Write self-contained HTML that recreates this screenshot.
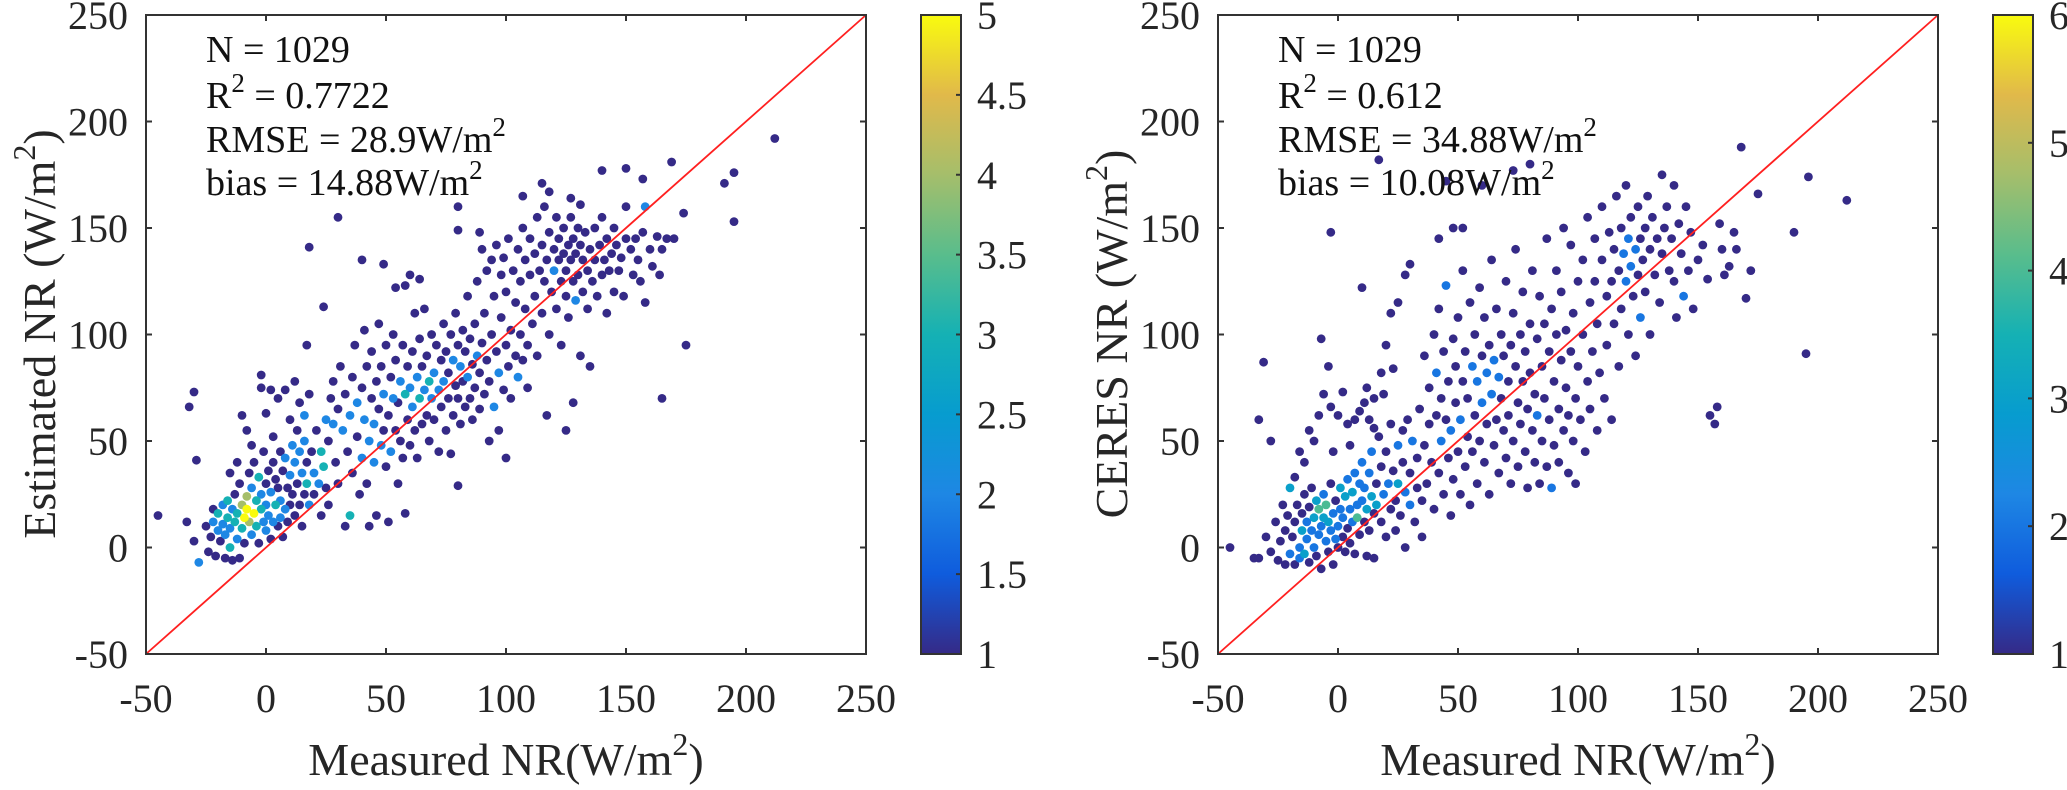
<!DOCTYPE html>
<html><head><meta charset="utf-8">
<style>
html,body{margin:0;padding:0;background:#fff;}
svg{display:block;font-family:"Liberation Serif","DejaVu Serif",serif;}
</style></head>
<body>
<svg id="fig" width="2067" height="790" viewBox="0 0 2067 790" xmlns="http://www.w3.org/2000/svg"></svg>
<script>
// ---- data ----
const xTicks = [-50,0,50,100,150,200,250];
const yTicks = [-50,0,50,100,150,200,250];
const leftCbTicks = [1,1.5,2,2.5,3,3.5,4,4.5,5];
const leftCbLabels = ["1","1.5","2","2.5","3","3.5","4","4.5","5"];
const rightCbTicks = [1,2,3,4,5,6];
const rightCbLabels = ["1","2","3","4","5","6"];
const leftStats = ["N = 1029","0.7722","28.9","14.88"];
const rightStats = ["N = 1029","0.612","34.88","10.08"];
// points: [measured, estimated, density]
const leftPoints = [
[-25,10,1],[-24,-2,1],[-23,5,1],[-22,18,1],[-22,12,2],[-21,-4,1],[-20,8,2],[-20,16,3],[-19,3,1],[-18,20,2],[-18,11,2],[-17,-5,1],[-17,6,2],[-16,14,3],[-16,22,3],[-15,0,3],[-15,9,2],[-14,18,2],[-14,-6,1],[-13,12,3],[-13,25,1],[-12,4,2],[-12,16,3],[-11,30,1],[-11,-5,1],[-10,20,4],[-10,9,3],[-9,14,5],[-9,2,1],[-8,24,4],[-8,18,5],[-7,12,4],[-7,35,1],[-6,6,2],[-6,28,2],[-5,16,5],[-5,40,1],[-4,22,3],[-4,10,3],[-3,2,1],[-3,33,3],[-2,18,3],[-2,25,2],[-1,12,2],[-1,45,1],[0,8,2],[0,20,2],[0,30,1],[1,15,2],[1,36,1],[2,26,2],[2,4,1],[3,12,2],[3,40,1],[4,20,3],[4,32,1],[5,10,1],[5,28,1],[6,22,2],[6,14,2],[7,36,1],[7,5,1],[8,18,2],[8,42,2],[9,28,1],[9,12,1],[10,34,2],[10,20,1],[11,48,2],[11,25,1],[12,15,1],[12,40,2],[13,30,1],[13,55,1],[14,20,1],[14,45,2],[15,35,2],[15,10,1],[16,50,2],[16,25,1],[17,40,1],[17,30,3],[18,20,2],[19,45,1],[20,35,2],[20,25,1],[21,55,1],[22,30,2],[23,15,1],[23,45,3],[24,38,3],[25,60,2],[25,28,1],[26,20,1],
[-2,75,1],[0,63,1],[2,74,1],[5,70,1],[8,74,1],[10,60,1],[12,78,1],[14,68,1],[16,62,2],[18,72,1],[-8,55,1],[-10,62,1],[-12,40,1],[-15,35,1],[-6,48,1],[3,52,1],[6,45,1],
[26,50,1],[27,70,1],[28,58,2],[28,78,1],[29,40,1],[30,65,1],[30,30,1],[31,85,1],[32,55,2],[33,72,1],[33,10,1],[34,45,1],[35,15,3],[35,62,2],[36,80,1],[36,35,1],[37,95,1],[38,68,2],[38,52,1],[39,25,1],[40,75,1],[40,42,2],[41,102,1],[41,60,2],[42,85,1],[42,30,1],[43,10,1],[43,50,2],[44,70,1],[44,92,1],[45,58,2],[45,40,2],[46,78,1],[46,15,1],[47,105,1],[47,65,1],[48,48,2],[48,85,1],[49,55,1],[49,72,2],[50,38,1],[50,95,1],[51,62,1],[51,12,1],[52,80,1],[52,45,2],[53,70,2],[53,100,1],[54,55,1],[54,88,1],[55,68,1],[55,30,1],[56,78,2],[56,50,1],[57,95,1],[57,42,1],[58,72,3],[58,16,1],[59,85,1],[59,60,1],[60,75,2],[60,48,1],[61,92,1],[61,66,2],[62,110,1],[62,55,1],[63,80,2],[63,42,1],[64,70,3],[64,98,1],[65,85,1],[65,58,1],[66,74,2],[66,112,1],[67,62,1],[67,90,1],[68,78,3],[68,50,1],[69,100,1],[69,70,2],[70,82,2],[70,60,1],
[71,95,1],[72,74,2],[72,45,1],[73,88,1],[73,66,1],[74,105,1],[74,78,2],[75,92,1],[75,55,1],[76,82,1],[76,70,1],[77,100,1],[77,44,1],[78,88,2],[78,62,1],[79,76,1],[79,110,1],[80,95,1],[80,70,1],[81,85,2],[81,58,1],[82,102,1],[82,78,1],[83,66,1],[83,92,1],[84,80,2],[84,118,1],[85,70,1],[85,98,1],[86,86,1],[86,60,1],[87,105,1],[87,75,1],[88,90,2],[88,125,1],[89,82,1],[89,65,1],[90,96,1],[90,140,1],[91,72,1],[91,110,1],[92,88,1],[92,130,1],[93,78,1],[93,50,1],[94,100,1],[94,135,1],[95,66,2],[95,118,1],[96,92,1],[96,142,1],[97,82,2],[97,55,1],[98,108,1],[98,128,1],[99,74,1],[99,136,1],[100,95,1],[100,120,1],[101,85,1],[101,145,1],[102,102,1],[102,70,1],[103,130,1],[104,90,1],[104,115,1],[105,140,1],[105,80,2],[106,100,1],[106,125,1],[107,150,1],[107,88,1],[108,112,1],[108,135,1],[109,75,1],[109,95,1],[110,128,1],[110,145,1],
[111,105,1],[112,138,1],[112,118,1],[113,155,1],[113,90,1],[114,130,1],[115,142,1],[115,110,1],[116,125,1],[116,160,1],[117,135,1],[118,100,1],[118,148,1],[119,120,1],[120,140,1],[120,130,2],[121,155,1],[121,112,1],[122,135,1],[122,145,1],[123,125,1],[123,95,1],[124,150,1],[124,138,1],[125,118,1],[125,130,1],[126,142,1],[126,108,1],[127,135,1],[127,155,1],[128,125,1],[128,145,1],[129,116,2],[129,138,1],[130,150,1],[130,128,1],[131,90,1],[131,142,1],[132,135,1],[132,120,1],[133,148,1],[134,130,1],[134,112,1],[135,140,1],[135,85,1],[136,125,1],[137,150,1],[137,135,1],[138,118,1],[139,142,1],[140,128,1],[140,155,1],[141,135,1],[142,110,1],[142,145,1],[143,130,1],[144,138,1],[145,150,1],[145,120,1],[146,142,1],[147,130,1],[148,136,1],[149,118,1],[150,145,1],[150,160,1],[152,140,1],[153,128,1],[154,145,1],[155,135,1],[156,125,1],[157,148,1],[158,115,1],[158,160,2],[160,140,1],[161,132,1],[163,146,1],[164,128,1],[165,140,1],[167,145,1],[170,145,1],
[-45,15,1],[-33,12,1],[-32,66,1],[-30,73,1],[-30,3,1],[-29,41,1],[-28,-7,2],[30,155,1],[18,141,1],[40,135,1],[24,113,1],[17,95,1],[-2,81,1],[49,133,1],[54,122,1],[60,128,1],[64,126,1],[58,123,1],[80,160,1],[80,149,1],[89,148,1],[175,95,1],[165,70,1],[125,55,1],[128,68,1],[80,29,1],[100,42,1],[117,62,1],[169,181,1],[174,157,1],[191,171,1],[195,176,1],[195,153,1],[212,192,1],[157,173,1],[150,178,1],[140,177,1],[127,164,1],[115,171,1],[107,165,1],[131,161,1],[118,167,1]
];
const rightPoints = [
[-35,-5,1],[-33,-5,1],[-30,5,1],[-28,-2,1],[-26,12,1],[-25,-6,1],[-24,3,1],[-23,20,1],[-22,-8,1],[-22,8,1],[-21,15,1],[-20,-3,2],[-20,28,3],[-19,5,1],[-18,12,1],[-18,-8,1],[-17,20,1],[-16,0,2],[-16,-5,2],[-15,8,3],[-15,16,1],[-14,-3,3],[-14,25,1],[-13,4,2],[-13,12,2],[-12,19,1],[-12,-7,1],[-11,8,2],[-11,28,1],[-10,0,2],[-10,14,3],[-9,22,3],[-9,-4,1],[-8,6,2],[-8,18,4],[-7,10,2],[-7,-10,1],[-6,14,3],[-6,25,2],[-5,3,2],[-5,20,4],[-4,-2,1],[-4,12,3],[-3,8,2],[-3,30,1],[-2,16,2],[-2,-8,1],[-1,4,2],[-1,22,1],[0,10,2],[0,0,1],[1,18,2],[1,28,3],[2,5,1],[2,14,2],[3,-2,1],[3,24,3],[4,9,1],[4,32,2],[5,2,1],[5,18,2],[6,26,3],[6,12,2],[7,35,2],[7,-3,1],[8,20,2],[8,14,4],[9,30,2],[9,6,1],[10,22,2],[10,40,2],[11,12,1],[11,28,2],[12,18,3],[12,-4,1],[13,35,2],[13,8,1],[14,24,3],[14,45,2],[15,16,1],[15,-5,1],[16,30,1],[16,20,3],[17,52,1],[18,12,1],[18,38,1],[19,25,2],[20,5,1],[20,45,1],[21,30,2],[22,18,1],[22,58,1],[23,36,1],[24,22,1],[24,8,1],[25,48,2],[25,30,3],[26,15,1],[27,55,1],[27,40,1],[28,26,2],[28,0,1],[29,60,1],[30,35,1],[30,20,2],[31,50,2],[32,12,1],[33,42,1],[33,28,1],[34,65,1],[35,22,1],[35,5,1],
[-18,33,1],[-14,40,1],[-12,55,1],[-10,50,1],[-8,62,1],[-6,72,1],[-7,98,1],[-4,85,1],[-3,66,1],[0,62,1],[2,73,1],[4,58,1],[-2,45,1],[-16,45,1],[5,48,1],[7,60,1],[9,64,1],[11,68,1],[12,75,1],[13,60,1],[15,70,1],[15,56,1],[18,82,1],[20,95,1],[22,110,1],[23,84,1],[19,72,1],
[36,90,1],[36,48,1],[37,30,1],[38,75,1],[38,58,1],[39,40,1],[40,100,1],[40,18,1],[41,62,1],[41,82,2],[42,35,1],[42,112,1],[43,50,2],[43,70,1],[44,25,1],[44,92,1],[45,60,1],[45,123,2],[46,42,1],[46,78,1],[47,15,1],[47,55,2],[48,98,1],[48,32,1],[49,68,1],[49,85,1],[50,45,1],[50,108,1],[51,60,2],[51,25,1],[52,78,1],[52,130,1],[53,38,1],[53,92,1],[54,52,1],[54,70,1],[55,115,1],[55,20,1],[56,85,2],[56,45,1],[57,62,1],[57,100,1],[58,30,1],[58,78,2],[59,122,1],[59,50,1],[60,90,1],[60,68,2],[61,40,1],[61,108,1],[62,82,2],[62,58,1],[63,25,1],[63,95,1],[64,72,2],[64,135,1],[65,48,1],[65,88,2],[66,60,1],[66,112,1],[67,80,2],[67,35,1],[68,100,1],[68,70,1],[69,55,1],[69,90,1],[70,125,1],[70,42,1],[71,78,1],[71,62,1],[72,95,1],[72,30,1],[73,110,1],[73,50,1],[74,85,1],[74,140,1],[75,68,1],[75,38,1],[76,100,1],[76,58,1],[77,120,1],[77,78,1],[78,45,1],[78,92,1],[79,65,1],[79,28,1],[80,105,1],[80,82,1],[81,55,1],[81,130,1],[82,72,1],[82,40,1],[83,98,1],[83,62,2],[84,118,1],[84,30,1],[85,85,1],[85,50,1],[86,105,1],[86,70,1],[87,145,1],[87,38,1],[88,92,1],[88,60,1],[89,112,1],[89,28,2],[90,78,1],[90,48,1],[91,100,1],[91,130,1],[92,65,1],[92,40,1],[93,88,1],[93,120,1],[94,55,1],[94,150,1],[95,75,1],[95,102,1],[96,35,1],[96,62,1],[97,92,1],[97,142,1],[98,50,1],[98,110,1],[99,70,1],[99,30,1],[100,85,1],[100,125,1],
[101,60,1],[102,100,1],[102,135,1],[103,45,1],[104,78,1],[104,155,1],[105,115,1],[105,65,1],[106,92,1],[107,125,1],[107,145,1],[108,55,1],[108,105,1],[109,82,1],[110,135,1],[110,160,1],[111,70,1],[112,118,1],[112,95,1],[113,148,1],[114,125,1],[114,60,1],[115,140,1],[115,105,1],[116,165,1],[117,130,1],[117,85,1],[118,150,1],[118,112,1],[119,138,2],[120,125,2],[120,170,1],[121,145,2],[121,100,1],[122,132,2],[122,155,1],[123,118,1],[124,140,2],[124,90,1],[125,160,1],[125,128,1],[126,145,1],[126,108,2],[127,135,1],[128,150,1],[128,120,1],[129,165,1],[130,140,1],[130,100,1],[131,155,1],[132,128,1],[133,145,1],[134,115,1],[135,175,1],[135,138,1],[136,150,1],[137,160,1],[138,130,1],[139,145,1],[140,125,1],[140,170,1],[141,108,1],[142,152,1],[143,138,1],[144,118,2],[145,160,1],[146,130,1],[147,148,1],[148,112,1],[150,135,1],[152,142,1],[154,126,1],[155,62,1],[157,58,1],[158,66,1],[159,152,1],[160,140,1],[161,128,1],[163,132,1],[165,148,1],[166,140,1],[170,117,1],[172,130,1],
[-45,0,1],[-33,60,1],[-31,87,1],[-28,50,1],[-3,148,1],[10,122,1],[17,182,1],[42,145,1],[48,150,1],[45,172,1],[80,180,1],[73,177,1],[60,170,1],[168,188,1],[175,166,1],[196,174,1],[212,163,1],[190,148,1],[195,91,1],[30,133,1],[25,115,1],[28,128,1],[52,150,1]
];
// ---- drawing ----
const NS = "http://www.w3.org/2000/svg";
const svg = document.getElementById('fig');
const parula = [[0,53,42,135],[0.125,15,92,221],[0.25,30,135,228],[0.375,7,156,207],[0.5,21,177,180],[0.625,89,189,140],[0.75,165,190,107],[0.875,225,185,74],[1,249,251,14]];
function pcolor(t){t=Math.max(0,Math.min(1,t));for(let i=1;i<parula.length;i++){if(t<=parula[i][0]){const a=parula[i-1],b=parula[i];const f=(t-a[0])/(b[0]-a[0]);return 'rgb('+[1,2,3].map(k=>Math.round(a[k]+(b[k]-a[k])*f)).join(',')+')';}}return 'rgb(249,251,14)';}
function mk(tag, attrs, parent){const e=document.createElementNS(NS,tag);for(const k in attrs)e.setAttribute(k,attrs[k]);(parent||svg).appendChild(e);return e;}
const TOP=15, BOT=654;
function drawPanel(cfg){
  const g = mk('g',{});
  
  
  const L=cfg.left, R=cfg.left+720;
  const sx = v => L + (v+50)/300*(R-L);
  const sy = v => BOT - (v+50)/300*(BOT-TOP);
  const pts = cfg.points.slice().sort((a,b)=>a[2]-b[2]);
  const pg = mk('g',{},g);
  
  
  for(const p of pts){
    const c = mk('circle',{cx:sx(p[0]).toFixed(1),cy:sy(p[1]).toFixed(1),r:4.4,fill:pcolor((p[2]-1)/(cfg.cmax-1))},pg);
    
    
  }
  const ln = mk('line',{x1:sx(-50),y1:sy(-50),x2:sx(250),y2:sy(250),stroke:'#ff2020','stroke-width':1.8},g);
  
  
  const fr = mk('rect',{x:L,y:TOP,width:R-L,height:BOT-TOP,fill:'none',stroke:'#333','stroke-width':2},g);
  
  
  for(const t of xTicks){
    const x=sx(t);
    mk('line',{x1:x,y1:BOT,x2:x,y2:BOT-6,stroke:'#333','stroke-width':2},g);
    mk('line',{x1:x,y1:TOP,x2:x,y2:TOP+6,stroke:'#333','stroke-width':2},g);
    const tx = mk('text',{x:x,y:712,'text-anchor':'middle','font-size':40,fill:'#262626'},g);
    tx.textContent = String(t);
    
    
  }
  for(const t of yTicks){
    const y=sy(t);
    mk('line',{x1:L,y1:y,x2:L+6,y2:y,stroke:'#333','stroke-width':2},g);
    mk('line',{x1:R,y1:y,x2:R-6,y2:y,stroke:'#333','stroke-width':2},g);
    const ty = mk('text',{x:L-18,y:y+14,'text-anchor':'end','font-size':40,fill:'#262626'},g);
    ty.textContent = String(t);
    
    
  }
  const s = cfg.stats, ax = L+60;
  const st = mk('text',{x:ax,y:62,'font-size':38,fill:'#111'},g);
  st.textContent = s[0];
  
  
  const r2 = mk('text',{x:ax,y:108,'font-size':38,fill:'#111'},g);
  r2.innerHTML = 'R<tspan font-size="27" dy="-16">2</tspan><tspan dy="16"> = '+s[1]+'</tspan>';
  
  
  const rm = mk('text',{x:ax,y:152,'font-size':38,fill:'#111'},g);
  rm.innerHTML = 'RMSE = '+s[2]+'W/m<tspan font-size="27" dy="-16">2</tspan>';
  
  
  const bi = mk('text',{x:ax,y:195,'font-size':38,fill:'#111'},g);
  bi.innerHTML = 'bias = '+s[3]+'W/m<tspan font-size="27" dy="-16">2</tspan>';
  
  
  const xl = mk('text',{x:(L+R)/2,y:775,'text-anchor':'middle','font-size':46,fill:'#262626'},g);
  xl.innerHTML = 'Measured NR(W/m<tspan font-size="32" dy="-20">2</tspan><tspan dy="20">)</tspan>';
  
  
  const yl = mk('text',{x:0,y:0,'text-anchor':'middle','font-size':46,fill:'#262626',transform:'translate('+cfg.ylx+',334) rotate(-90)'},g);
  yl.innerHTML = cfg.ylabel+' (W/m<tspan font-size="32" dy="-20">2</tspan><tspan dy="20">)</tspan>';
  
  
  const cbL=cfg.cbx, cbW=40;
  const gid='grad'+cfg.name;
  const defs=mk('defs',{},g);
  const lg=mk('linearGradient',{id:gid,x1:0,y1:1,x2:0,y2:0},defs);
  for(const s2 of parula) mk('stop',{offset:s2[0],'stop-color':'rgb('+s2[1]+','+s2[2]+','+s2[3]+')'},lg);
  const cb = mk('rect',{x:cbL,y:TOP,width:cbW,height:BOT-TOP,fill:'url(#'+gid+')',stroke:'#333','stroke-width':2},g);
  
  
  const cy = v => BOT - (v-1)/(cfg.cmax-1)*(BOT-TOP);
  cfg.cbTicks.forEach((t,i)=>{
    const y=cy(t);
    mk('line',{x1:cbL+cbW,y1:y,x2:cbL+cbW-5,y2:y,stroke:'#333','stroke-width':2},g);
    const tl = mk('text',{x:cbL+cbW+16,y:y+14,'font-size':40,fill:'#262626'},g);
    tl.textContent = cfg.cbLabels[i];
    
    
  });
}
drawPanel({name:'left-panel',left:146,points:leftPoints,cmax:5,stats:leftStats,ylabel:'Estimated NR',ylx:55,cbx:921,cbTicks:leftCbTicks,cbLabels:leftCbLabels});
drawPanel({name:'right-panel',left:1218,points:rightPoints,cmax:6,stats:rightStats,ylabel:'CERES NR',ylx:1127,cbx:1993,cbTicks:rightCbTicks,cbLabels:rightCbLabels});
</script>
</body></html>
